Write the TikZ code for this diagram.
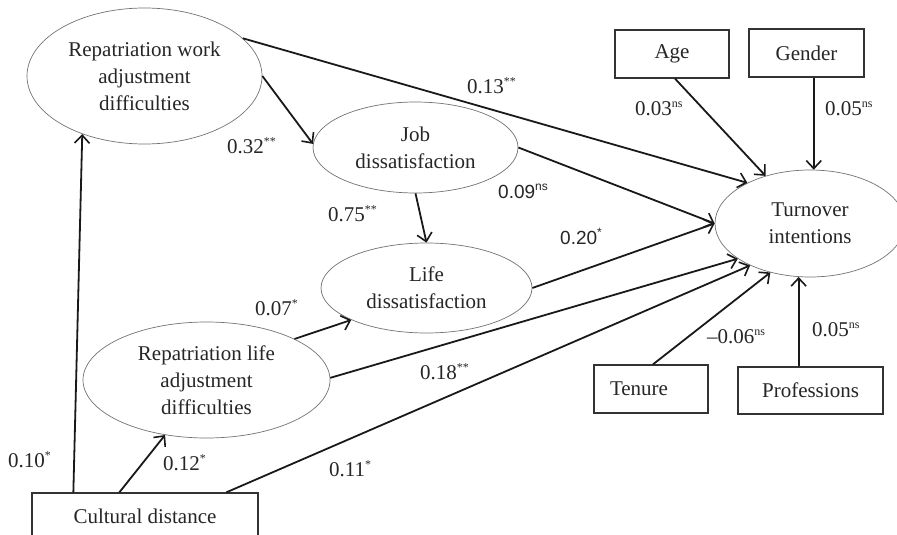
\documentclass[tikz,border=0pt]{standalone}
\usepackage{fontspec}
\setmainfont{Liberation Serif}
\newfontfamily\arialf{Liberation Sans}
\usetikzlibrary{shapes.geometric,arrows.meta}
\newcommand\sgs[1]{\raisebox{8pt}{\fontsize{12}{12}\selectfont #1}}
\begin{document}
\begin{tikzpicture}[x=1pt,y=-1pt,
  lat/.style={ellipse,draw=black!55,line width=0.7pt,inner sep=0pt,align=center,
    font=\fontsize{21}{27}\selectfont,text=black!85},
  box/.style={rectangle,draw=black!80,line width=1.3pt,inner sep=0pt,
    font=\fontsize{21}{25}\selectfont,text=black!85},
  arr/.style={draw=black!90,line width=1.8pt,
    -{Straight Barb[length=8pt,width=15pt,line width=1.6pt]}},
  lbl/.style={anchor=base west,inner sep=0pt,font=\fontsize{21}{25}\selectfont,text=black!85},
  slbl/.style={lbl,font=\arialf\fontsize{19}{23}\selectfont}]
\useasboundingbox (0,0) rectangle (897,535);
\clip (0,0) rectangle (897,535);
\fill[white] (0,0) rectangle (897,535);

% latent variables
\node[lat,minimum width=235pt,minimum height=136pt] (RW) at (144.5,76)
  {Repatriation work\\adjustment\\difficulties};
\node[lat,minimum width=205pt,minimum height=91pt] (JD) at (415.5,147.5)
  {Job\\dissatisfaction};
\node[lat,minimum width=211pt,minimum height=90pt] (LD) at (426.5,288)
  {Life\\dissatisfaction};
\node[lat,minimum width=247pt,minimum height=116pt] (RL) at (206.5,380)
  {Repatriation life\\adjustment\\difficulties};
\node[lat,minimum width=190pt,minimum height=107pt] (TI) at (810,223.5)
  {Turnover\\intentions};

% observed variables
\node[box,minimum width=114pt,minimum height=48pt] (AG) at (672,54) {Age};
\node[box,minimum width=115pt,minimum height=48pt] (GE) at (806.5,53) {Gender};
\node[box,minimum width=114pt,minimum height=48pt,inner xsep=16pt,
  text width=82pt,align=left] (TE) at (651,389) {Tenure};
\node[box,minimum width=145pt,minimum height=47pt] (PR) at (810.5,390.5) {Professions};
\node[box,minimum width=226pt,minimum height=46pt] (CD) at (145,516) {Cultural distance};

% paths
\draw[arr] (RW.21) -- (TI.147.5);
\draw[arr] (RW.0) -- (JD.178);
\draw[arr] (JD.0) -- (TI.180);
\draw[arr] (JD.-90) -- (LD.90);
\draw[arr] (LD.0) -- (TI.180);
\draw[arr] (RL.25) -- (LD.-157);
\draw[arr] (RL.1) -- (TI.-154.7);
\draw[arr] ([xshift=42pt]CD.north west) -- (RW.-137);
\draw[arr] ([xshift=88pt]CD.north west) -- (RL.-127);
\draw[arr] ([xshift=195pt]CD.north west) -- (TI.-145);
\draw[arr] ([xshift=3pt]AG.south) -- (TI.133.5);
\draw[arr] (TI.86.8 |- GE.south) -- (TI.86.8);
\draw[arr] ([xshift=2pt]TE.north) -- (TI.-129.5);
\draw[arr] (TI.-102.4 |- PR.north) -- (TI.-102.4);

% coefficients
\node[lbl] (l13) at (467,93) {0.13\sgs{**}};
\node[lbl] (l32) at (227,153) {0.32\sgs{**}};
\node[lbl] (l03) at (635,115) {0.03\sgs{ns}};
\node[lbl] (l05a) at (825,115) {0.05\sgs{ns}};
\node[slbl] (l09) at (498,198) {0.09\sgs{ns}};
\node[lbl] (l75) at (328,221) {0.75\sgs{**}};
\node[slbl] (l20) at (560,244) {0.20\sgs{*}};
\node[lbl] (l07) at (255,315) {0.07\sgs{*}};
\node[lbl] (l18) at (420,379) {0.18\sgs{**}};
\node[lbl] (l11) at (329,476) {0.11\sgs{*}};
\node[lbl] (l10) at (8,467) {0.10\sgs{*}};
\node[lbl] (l12) at (163,470) {0.12\sgs{*}};
\node[lbl] (l06) at (707,343) {--0.06\sgs{ns}};
\node[lbl] (l05b) at (812,336) {0.05\sgs{ns}};
\end{tikzpicture}
\end{document}
